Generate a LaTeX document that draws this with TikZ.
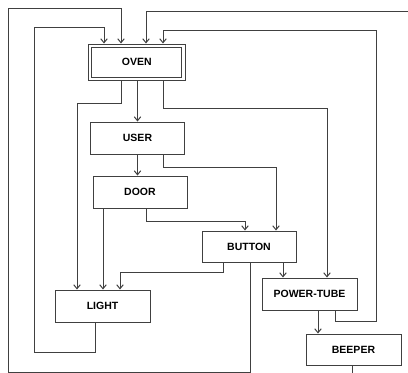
\documentclass[tikz,border=0pt]{standalone}
\usepackage{fontspec}
\setmainfont{Liberation Sans}
\usetikzlibrary{arrows.meta,positioning}

\begin{document}
\begin{tikzpicture}[
    x=1pt, y=-1pt,
    box/.style={draw=black!75, line width=0.95pt, align=center, minimum width=94pt, minimum height=32pt, inner sep=0pt, font=\fontsize{10.5}{12}\selectfont\bfseries},
    frame/.style={draw=black!75, line width=0.95pt, minimum width=97pt, minimum height=36pt, inner sep=0pt},
    link/.style={-{Straight Barb[length=4pt,width=6.5pt]}, draw=black!75, line width=1pt}
]
\useasboundingbox (0,0) rectangle (408,373);
\clip (0,0) rectangle (408,373);
\node[box, minimum width=90pt, minimum height=30pt] (oven) at (136.8,62) {OVEN};
\node[frame] (ovenout) at (oven) {};
\node[box] (user) at (137.5,138) {USER};
\node[box] (door) at (140,192) {DOOR};
\node[box, minimum height=31pt] (button) at (249,246.5) {BUTTON};
\node[box, minimum width=95pt] (light) at (102.5,306) {LIGHT};
\node[box, minimum width=95pt] (tube) at (309.5,294) {POWER-TUBE};
\node[box, minimum width=95pt, minimum height=31pt] (beeper) at (353.5,349.5) {BEEPER};
% straight links
\draw[link] (user.north |- ovenout.south) -- (user.north);
\draw[link] (user.south) -- (user.south |- door.north);
\draw[link] ([xshift=-37pt]door.south) -- ([xshift=-37pt]door.south |- light.north);
\draw[link] ([xshift=34pt]button.south) -- ([xshift=34pt]button.south |- tube.north);
\draw[link] ([xshift=8.5pt]tube.south) -- ([xshift=8.5pt]tube.south |- beeper.north);
% links with bends
\draw[link] ([xshift=-15.8pt]ovenout.south) -- ++(0,23) -| ([xshift=-25.5pt]light.north);
\draw[link] ([xshift=26.2pt]ovenout.south) -- ++(0,28) -| ([xshift=17.5pt]tube.north);
\draw[link] ([xshift=25.5pt]user.south) -- ++(0,13) -| ([xshift=27pt]button.north);
\draw[link] ([xshift=6pt]door.south) -- ++(0,13) -| ([xshift=-4pt]button.north);
\draw[link] ([xshift=-26pt]button.south) -- ++(0,10) -| ([xshift=17.5pt]light.north);
% feedback loops into oven
\draw[link] ([xshift=1pt]button.south) -- ++(0,110) -| (8,8) -| ([xshift=-15.8pt]ovenout.north);
\draw[link] ([xshift=-7.5pt]light.south) -- ++(0,30) -| (34,27) -| ([xshift=-32.8pt]ovenout.north);
\draw[link] ([xshift=25.5pt]tube.south) -- ++(0,11) -| (376,30) -| ([xshift=26.2pt]ovenout.north);
\draw[link] ([xshift=-1.5pt]beeper.south) -- ++(0,30) -| (420,11) -| ([xshift=9.2pt]ovenout.north);
\end{tikzpicture}
\end{document}
